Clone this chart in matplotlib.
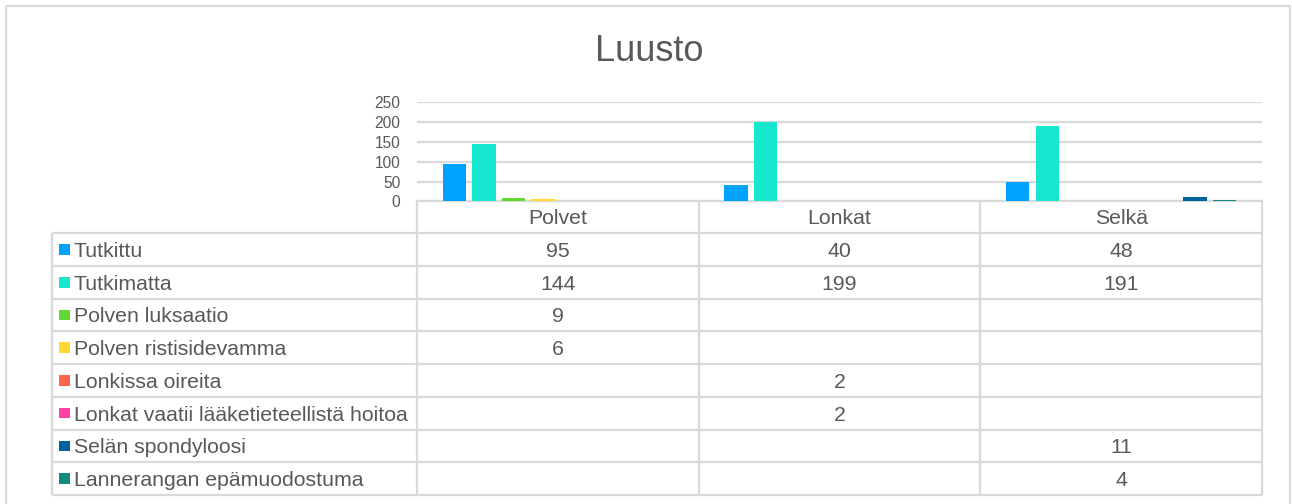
import matplotlib
matplotlib.use("Agg")
import matplotlib.pyplot as plt
import numpy as np

# ---- data ----
title = "Luusto"
categories = ["Polvet", "Lonkat", "Selkä"]
series_names = [
    "Tutkittu",
    "Tutkimatta",
    "Polven luksaatio",
    "Polven ristisidevamma",
    "Lonkissa oireita",
    "Lonkat vaatii lääketieteellistä hoitoa",
    "Selän spondyloosi",
    "Lannerangan epämuodostuma",
]
tutkittu = [95, 40, 48]
tutkimatta = [144, 199, 191]
polven_luksaatio = [9, None, None]
polven_ristisidevamma = [6, None, None]
lonkissa_oireita = [None, 2, None]
lonkat_hoitoa = [None, 2, None]
selan_spondyloosi = [None, None, 11]
lannerangan = [None, None, 4]
series_values = [tutkittu, tutkimatta, polven_luksaatio, polven_ristisidevamma,
                 lonkissa_oireita, lonkat_hoitoa, selan_spondyloosi, lannerangan]
colors = ["#00A2FF", "#16E7CF", "#61D836", "#FFD932",
          "#FF644E", "#FF42A1", "#00639E", "#138A7E"]
yticks = [0, 50, 100, 150, 200, 250]

# ---- style ----
W, H = 1292, 504
TXT = "#595959"
GRID = "#D9D9D9"
FONT = "Liberation Sans"
plt.rcParams["font.family"] = [FONT, "DejaVu Sans"]

fig = plt.figure(figsize=(W / 100, H / 100), dpi=100)

# pixel-layout helpers
px_left, px_right = 417, 1262
px_y0, px_ytop = 201.3, 102.3

def fx(p):
    return p / W

def fy(p):
    return 1 - p / H

# background overlay axes in pixel coordinates
bg = fig.add_axes([0, 0, 1, 1])
bg.set_xlim(0, W)
bg.set_ylim(H, 0)
bg.axis("off")

# outer chart border
bg.plot([6, 6], [6, H + 5], color=GRID, lw=1.6, solid_capstyle="butt")
bg.plot([6, 1290], [6, 6], color=GRID, lw=1.6, solid_capstyle="butt")
bg.plot([1290, 1290], [6, H + 5], color=GRID, lw=1.6, solid_capstyle="butt")

# title
bg.text(649, 61, title, ha="center", va="baseline", fontsize=26, color=TXT)

# ---- chart axes ----
ax = fig.add_axes([fx(px_left), fy(px_y0), fx(px_right) - fx(px_left),
                   fy(px_ytop) - fy(px_y0)])
ax.set_xlim(-0.5, len(categories) - 0.5)
ax.set_ylim(0, 250)
n = len(series_names)
step = 0.105
width = 0.083
x = np.arange(len(categories))
for i, (vals, c) in enumerate(zip(series_values, colors)):
    v = [0 if val is None else val for val in vals]
    ax.bar(x + (i - (n - 1) / 2) * step, v, width=width, color=c, zorder=3)
ax.set_yticks(yticks)
ax.set_yticklabels([str(t) for t in yticks], fontsize=11.2, color=TXT)
ax.tick_params(axis="y", length=0, pad=12)
ax.tick_params(axis="x", length=0, labelbottom=False)
ax.set_xticks([])
ax.grid(axis="y", color=GRID, lw=1.6, zorder=0)
for s in ["top", "right", "left"]:
    ax.spines[s].set_visible(False)
ax.spines["bottom"].set_color(GRID)
ax.spines["bottom"].set_linewidth(1.6)
ax.patch.set_alpha(0)

# ---- data table (pixel layout) ----
cat_w = (px_right - px_left) / len(categories)
tbl_left = 52
hdr_top = px_y0
row_top = 233.3
row_h = (495 - row_top) / n
tbl_bottom = row_top + n * row_h

# vertical lines
for k in range(len(categories) + 1):
    xx = px_left + k * cat_w
    bg.plot([xx, xx], [hdr_top, tbl_bottom], color=GRID, lw=1.6, solid_capstyle="butt")
bg.plot([tbl_left, tbl_left], [row_top, tbl_bottom], color=GRID, lw=1.6, solid_capstyle="butt")
# horizontal lines
for r in range(n + 1):
    yy = row_top + r * row_h
    bg.plot([tbl_left, px_right], [yy, yy], color=GRID, lw=1.6, solid_capstyle="butt")

TFS = 15.3
# header
for k, cat in enumerate(categories):
    cx = px_left + (k + 0.5) * cat_w
    bg.text(cx, 224.3, cat, ha="center", va="baseline", fontsize=TFS, color=TXT)

# rows
for r, (name, vals, c) in enumerate(zip(series_names, series_values, colors)):
    cy = row_top + (r + 0.5) * row_h
    base = cy + 7.3
    bg.add_patch(plt.Rectangle((59, cy - 5.3), 10.5, 10.5, color=c, lw=0))
    bg.text(74, base, name, ha="left", va="baseline", fontsize=TFS, color=TXT)
    for k, val in enumerate(vals):
        if val is not None:
            cx = px_left + (k + 0.5) * cat_w
            bg.text(cx, base, str(val), ha="center", va="baseline", fontsize=TFS, color=TXT)

fig.savefig("out.png", dpi=100)
